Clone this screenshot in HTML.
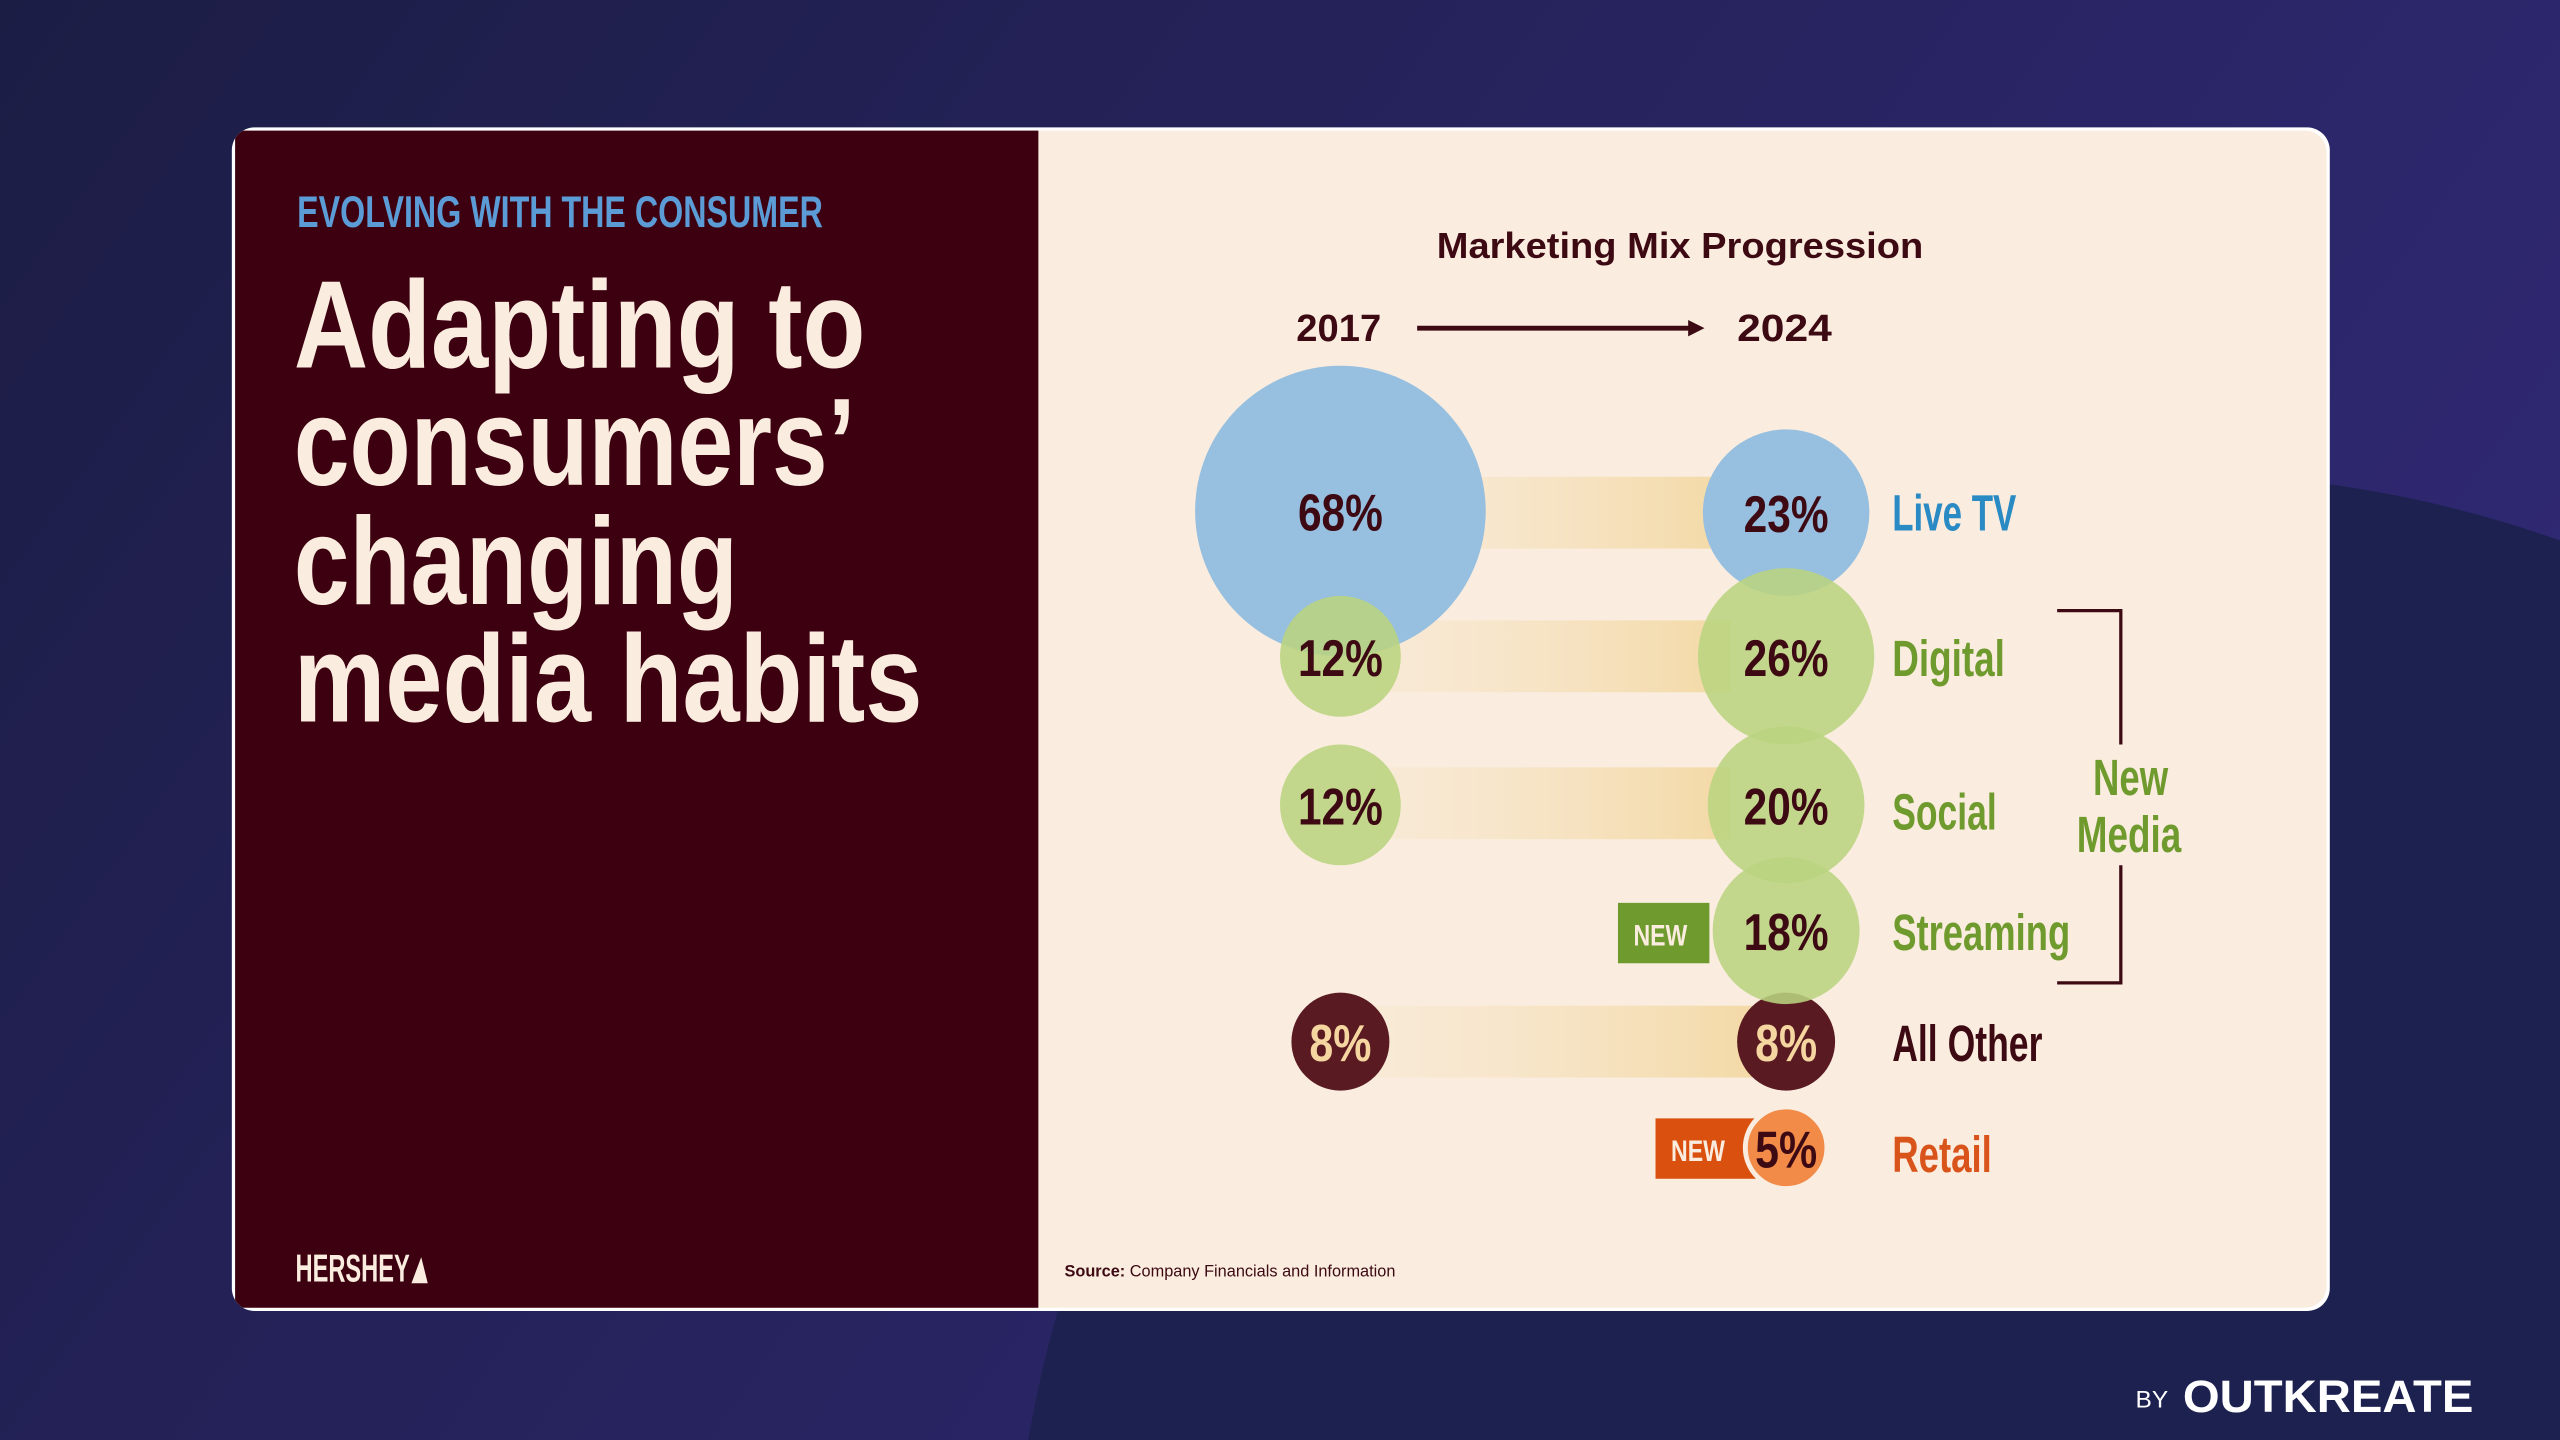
<!DOCTYPE html>
<html><head><meta charset="utf-8"><style>
html,body{margin:0;padding:0;width:2560px;height:1440px;overflow:hidden;background:#1f1f4d}
svg{display:block;position:absolute;left:0;top:0}
text{font-family:"Liberation Sans",sans-serif}
</style></head><body>
<svg width="2560" height="1440" viewBox="0 0 1568 882" xmlns="http://www.w3.org/2000/svg" overflow="hidden">
<defs>
<linearGradient id="bg" x1="0" y1="0" x2="1" y2="0.4">
<stop offset="0" stop-color="#1c1d45"/><stop offset="1" stop-color="#2f2872"/>
</linearGradient>
<linearGradient id="band" x1="0" y1="0" x2="1" y2="0">
<stop offset="0" stop-color="#f6e3c4" stop-opacity="0.3"/><stop offset="1" stop-color="#f3d9a5"/>
</linearGradient>
<clipPath id="card"><rect x="142" y="78" width="1285" height="725" rx="14"/></clipPath>
</defs>
<rect width="1568" height="882" fill="url(#bg)"/>
<circle cx="1330" cy="1000" r="710" fill="#1d2150"/>
<rect x="142" y="78" width="1285" height="725" rx="14" fill="#ffffff"/>
<g clip-path="url(#card)">
<rect x="144" y="80" width="1281" height="721" rx="13" fill="#faeddf"/>
<rect x="144" y="80" width="492" height="721" fill="#3d0010"/>
</g>
<text x="182" y="139" font-size="27" font-weight="bold" fill="#5b9bd6" textLength="322" lengthAdjust="spacingAndGlyphs">EVOLVING WITH THE CONSUMER</text>
<g font-size="76" font-weight="bold" fill="#faeddf">
<text x="180" y="225" textLength="350" lengthAdjust="spacingAndGlyphs">Adapting to</text>
<text x="180" y="297" textLength="344" lengthAdjust="spacingAndGlyphs">consumers’</text>
<text x="180" y="370" textLength="272" lengthAdjust="spacingAndGlyphs">changing</text>
<text x="180" y="442" textLength="385" lengthAdjust="spacingAndGlyphs">media habits</text>
</g>
<text x="181" y="785" font-size="24" font-weight="bold" fill="#faeddf" textLength="70" lengthAdjust="spacingAndGlyphs">HERSHEY</text>
<path d="M252 786 L262 786 L258 770 Z" fill="#faeddf"/>
<text x="1029" y="158" font-size="22" font-weight="bold" fill="#3d0a14" text-anchor="middle" textLength="298" lengthAdjust="spacingAndGlyphs">Marketing Mix Progression</text>
<text x="820" y="209" font-size="23" font-weight="bold" fill="#3d0a14" text-anchor="middle" textLength="52" lengthAdjust="spacingAndGlyphs">2017</text>
<text x="1093" y="209" font-size="23" font-weight="bold" fill="#3d0a14" text-anchor="middle" textLength="58" lengthAdjust="spacingAndGlyphs">2024</text>
<line x1="868" y1="201" x2="1036" y2="201" stroke="#3d0a14" stroke-width="3"/>
<path d="M1034 196 L1044 201 L1034 206 Z" fill="#3d0a14"/>
<rect x="850" y="292" width="210" height="44" fill="url(#band)"/>
<rect x="840" y="380" width="220" height="44" fill="url(#band)"/>
<rect x="840" y="470" width="220" height="44" fill="url(#band)"/>
<rect x="840" y="616" width="240" height="44" fill="url(#band)"/>
<circle cx="821" cy="313" r="89" fill="#97bfdf"/>
<circle cx="1094" cy="314" r="51" fill="#97bfdf"/>
<g fill="#b9d47f" fill-opacity="0.88">
<circle cx="821" cy="402" r="37"/>
<circle cx="1094" cy="402" r="54"/>
<circle cx="821" cy="493" r="37"/>
<circle cx="1094" cy="493" r="48"/>
</g>
<circle cx="821" cy="638" r="30" fill="#5a1a22"/>
<circle cx="1094" cy="638" r="30" fill="#5a1a22"/>
<rect x="991" y="553" width="56" height="37" fill="#6f9a2e"/>
<circle cx="1094" cy="570" r="45" fill="#b9d47f" fill-opacity="0.88"/>
<text x="1017" y="579" font-size="18" font-weight="bold" fill="#faeddf" text-anchor="middle" textLength="33" lengthAdjust="spacingAndGlyphs">NEW</text>
<rect x="1014" y="685" width="62" height="37" fill="#d9500f"/>
<circle cx="1094" cy="703" r="25" fill="#f28a48" stroke="#faeddf" stroke-width="3"/>
<text x="1040" y="711" font-size="18" font-weight="bold" fill="#faeddf" text-anchor="middle" textLength="33" lengthAdjust="spacingAndGlyphs">NEW</text>
<g font-size="32" font-weight="bold" fill="#3d0a14" text-anchor="middle">
<text x="821" y="325" textLength="52" lengthAdjust="spacingAndGlyphs">68%</text>
<text x="1094" y="326" textLength="52" lengthAdjust="spacingAndGlyphs">23%</text>
<text x="821" y="414" textLength="52" lengthAdjust="spacingAndGlyphs">12%</text>
<text x="1094" y="414" textLength="52" lengthAdjust="spacingAndGlyphs">26%</text>
<text x="821" y="505" textLength="52" lengthAdjust="spacingAndGlyphs">12%</text>
<text x="1094" y="505" textLength="52" lengthAdjust="spacingAndGlyphs">20%</text>
<text x="1094" y="582" textLength="52" lengthAdjust="spacingAndGlyphs">18%</text>
<text x="1094" y="715" textLength="38" lengthAdjust="spacingAndGlyphs">5%</text>
<text x="821" y="650" textLength="38" lengthAdjust="spacingAndGlyphs" fill="#f5d5a0">8%</text>
<text x="1094" y="650" textLength="38" lengthAdjust="spacingAndGlyphs" fill="#f5d5a0">8%</text>
</g>
<g font-size="31" font-weight="bold">
<text x="1159" y="325" fill="#2a8ac4" textLength="76" lengthAdjust="spacingAndGlyphs">Live TV</text>
<text x="1159" y="414" fill="#6f9a2e" textLength="69" lengthAdjust="spacingAndGlyphs">Digital</text>
<text x="1159" y="508" fill="#6f9a2e" textLength="64" lengthAdjust="spacingAndGlyphs">Social</text>
<text x="1159" y="582" fill="#6f9a2e" textLength="109" lengthAdjust="spacingAndGlyphs">Streaming</text>
<text x="1159" y="650" fill="#3d0a14" textLength="92" lengthAdjust="spacingAndGlyphs">All Other</text>
<text x="1159" y="718" fill="#d9541a" textLength="61" lengthAdjust="spacingAndGlyphs">Retail</text>
<text x="1305" y="487" fill="#6f9a2e" text-anchor="middle" textLength="46" lengthAdjust="spacingAndGlyphs">New</text>
<text x="1304" y="522" fill="#6f9a2e" text-anchor="middle" textLength="64" lengthAdjust="spacingAndGlyphs">Media</text>
</g>
<path d="M1260 374 L1299 374 L1299 456 M1299 530 L1299 602 L1260 602" fill="none" stroke="#3d0a14" stroke-width="2"/>
<text x="652" y="782" font-size="10" fill="#3d0a14"><tspan font-weight="bold">Source:</tspan> Company Financials and Information</text>
<text x="1308" y="862" font-size="15" fill="#ffffff">BY</text>
<text x="1337" y="865" font-size="28" font-weight="bold" fill="#ffffff" textLength="178" lengthAdjust="spacingAndGlyphs">OUTKREATE</text>
</svg>
</body></html>
